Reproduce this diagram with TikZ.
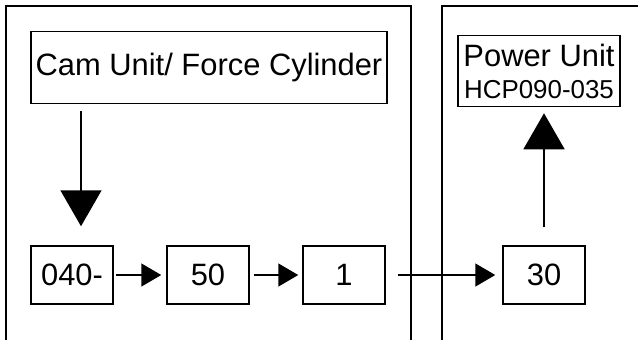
\documentclass[tikz,border=0pt]{standalone}
\usepackage{fontspec}
\setmainfont{Liberation Sans}
\usetikzlibrary{positioning,arrows.meta}

\begin{document}
\begin{tikzpicture}[x=1bp, y=-1bp, node distance=136bp, on grid,
  box/.style={draw, line width=1.5bp, minimum width=82bp, minimum height=58bp,
    inner sep=0pt, font=\fontsize{31}{33}\selectfont},
  panel/.style={draw, line width=2bp},
  flow/.style={line width=1.5bp, -{Triangle[length=20bp, width=23bp]}},
  bigflow/.style={line width=1.5bp, -{Triangle[length=36bp, width=41bp]}}]

  \useasboundingbox (0,0) rectangle (638,339);

  % Cabinets
  \draw[panel] (6,350) -- (6,6) -- (411,6) -- (411,350);
  \draw[panel] (442,350) -- (442,6) -- (650,6);

  % Units at the top
  \node[box, minimum width=356bp, minimum height=72bp] (cam) at (209,67.5)
    {Cam Unit/ Force Cylinder};
  \node[box, minimum width=162bp, minimum height=71bp, align=center] (power) at (539,71)
    {Power Unit\\[-1bp]{\fontsize{26}{28}\selectfont HCP090-035}};

  % Valve chain
  \node[box] (v040) at (72,275) {040-};
  \node[box] (v50) [right=of v040] {50};
  \node[box] (v1) [right=of v50] {1};
  \node[box] (v30) [right=200bp of v1] {30};

  \coordinate (camout) at (81,111);

  % Connections
  \draw[bigflow, shorten >=19bp] (camout) -- (camout |- v040.north);
  \draw[bigflow, shorten <=18bp, shorten >=6bp] (v30.north) -- (v30.north |- power.south);
  \path[flow]
    (v040) edge[shorten <=2bp, shorten >=5bp] (v50)
    (v50) edge[shorten <=4bp, shorten >=4bp] (v1)
    (v1) edge[shorten <=12bp, shorten >=7bp] (v30);

\end{tikzpicture}
\end{document}
